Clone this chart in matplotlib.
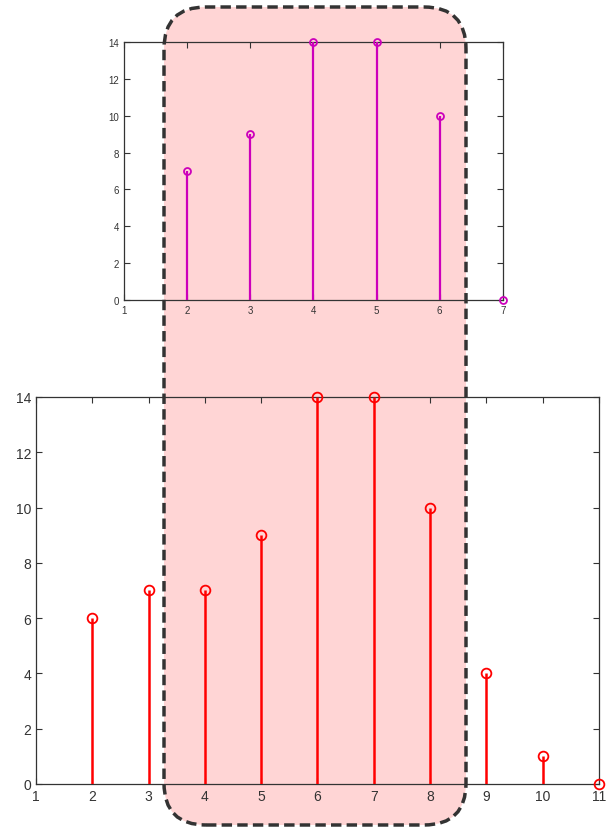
import matplotlib
matplotlib.use("Agg")
import matplotlib.pyplot as plt
from matplotlib.patches import FancyBboxPatch
from matplotlib.transforms import IdentityTransform

# top panel (magenta)
top_x = [2, 3, 4, 5, 6, 7]
top_y = [7, 9, 14, 14, 10, 0]
top_xticks = [1, 2, 3, 4, 5, 6, 7]
# bottom panel (red)
bot_x = [2, 3, 4, 5, 6, 7, 8, 9, 10, 11]
bot_y = [6, 7, 7, 9, 14, 14, 10, 4, 1, 0]
bot_xticks = [1, 2, 3, 4, 5, 6, 7, 8, 9, 10, 11]
yticks = [0, 2, 4, 6, 8, 10, 12, 14]

plt.rcParams['font.family'] = ['Liberation Sans', 'DejaVu Sans']

fig = plt.figure(figsize=(6.14, 8.29), dpi=100)


def stem_panel(ax, x, y, color, lw, ms, xticks, fs):
    ax.set_facecolor('none')
    ax.vlines(x, 0, y, color=color, linewidth=lw, zorder=3)
    ax.plot(x, y, 'o', color=color, markerfacecolor='none', markersize=ms,
            markeredgewidth=1.3, clip_on=False, zorder=4)
    ax.set_xlim(xticks[0], xticks[-1])
    ax.set_ylim(0, 14)
    ax.set_xticks(xticks)
    ax.set_yticks(yticks)
    ax.tick_params(direction='in', top=True, right=True, labelsize=fs,
                   colors='#333333', length=4, width=0.8)
    for s in ax.spines.values():
        s.set_color('#333333')
        s.set_linewidth(0.9)


ax1 = fig.add_axes([0.202, 0.637, 0.617, 0.311])
stem_panel(ax1, top_x, top_y, '#cc00bb', 1.6, 5, top_xticks, 7)

ax2 = fig.add_axes([0.0586, 0.0531, 0.917, 0.4669])
stem_panel(ax2, bot_x, bot_y, '#ff0000', 1.8, 7, bot_xticks, 10)

# highlighted region, drawn in pixels
fill = FancyBboxPatch((164, 3), 302, 818,
                      boxstyle="round,pad=0,rounding_size=42",
                      transform=IdentityTransform(), facecolor='#ffd5d5',
                      edgecolor='none', zorder=-1)
edge = FancyBboxPatch((164, 3), 302, 818,
                      boxstyle="round,pad=0,rounding_size=42",
                      transform=IdentityTransform(), facecolor='none',
                      edgecolor='#333333', linewidth=2.5,
                      linestyle=(0, (3, 1.5)), zorder=5)
fig.patches.extend([fill, edge])

fig.savefig('out.png', dpi=100)
